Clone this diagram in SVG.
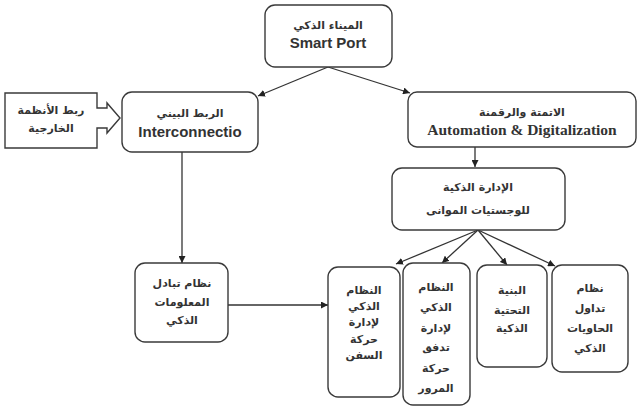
<svg xmlns="http://www.w3.org/2000/svg" width="638" height="406" viewBox="0 0 638 406">
<style>
.box{fill:#fff;stroke:#3a3a3a;stroke-width:1.4}
.ar{font-family:"DejaVu Sans","Liberation Sans",sans-serif;font-weight:bold;font-size:11px;fill:#333;text-anchor:middle}
.en{font-family:"Liberation Sans",Arial,sans-serif;font-weight:bold;font-size:15px;fill:#333;text-anchor:middle}
.tm{font-family:"Liberation Serif","Times New Roman",serif;font-weight:bold;font-size:15.5px;fill:#333;text-anchor:middle}
.cn{fill:none;stroke:#333;stroke-width:1.3}
</style>
<defs>
<marker id="ah" viewBox="0 0 10 10" refX="10" refY="5" markerWidth="7" markerHeight="7" orient="auto" markerUnits="userSpaceOnUse">
<path d="M0,0 L10,5 L0,10 z" fill="#222"/>
</marker>
</defs>
<rect width="638" height="406" fill="#fff"/>
<g id="connectors">
<line class="cn" x1="328" y1="67" x2="258" y2="96" marker-end="url(#ah)"/>
<line class="cn" x1="328" y1="67" x2="410" y2="93" marker-end="url(#ah)"/>
<line class="cn" x1="475" y1="147" x2="475" y2="167" marker-end="url(#ah)"/>
<line class="cn" x1="182" y1="152" x2="182" y2="263" marker-end="url(#ah)"/>
<line class="cn" x1="228" y1="305" x2="328" y2="305" marker-end="url(#ah)"/>
<line class="cn" x1="478" y1="230" x2="396" y2="264" marker-end="url(#ah)"/>
<line class="cn" x1="478" y1="230" x2="442" y2="263" marker-end="url(#ah)"/>
<line class="cn" x1="478" y1="230" x2="507" y2="265" marker-end="url(#ah)"/>
<line class="cn" x1="478" y1="230" x2="555" y2="266" marker-end="url(#ah)"/>
</g>
<g id="smart-port">
<rect class="box" x="265" y="5" width="127" height="62" rx="10"/>
<text class="ar" x="328" y="29">الميناء الذكي</text>
<text class="en" x="328" y="48">Smart Port</text>
</g>
<g id="external">
<path class="box" d="M5,93 H97 V108 H107 V103 L120,118 L107,133 V128 H97 V148 H5 Z"/>
<text class="ar" x="51" y="114">ربط الأنظمة</text>
<text class="ar" x="51" y="132">الخارجية</text>
</g>
<g id="interconnection">
<rect class="box" x="122" y="92" width="136" height="60" rx="10"/>
<text class="ar" x="190" y="117">الربط البيني</text>
<text class="en" x="190" y="137">Interconnectio</text>
</g>
<g id="automation">
<rect class="box" x="408" y="92" width="228" height="55" rx="9"/>
<text class="ar" x="522" y="116">الاتمتة والرقمنة</text>
<text class="tm" x="522" y="135">Automation &amp; Digitalization</text>
</g>
<g id="logistics">
<rect class="box" x="392" y="168" width="173" height="62" rx="10"/>
<text class="ar" x="478" y="191">الإدارة الذكية</text>
<text class="ar" x="478" y="214">للوجستيات الموانى</text>
</g>
<g id="info-exchange">
<rect class="box" x="135" y="263" width="93" height="79" rx="10"/>
<text class="ar" x="182" y="287">نظام تبادل</text>
<text class="ar" x="182" y="306">المعلومات</text>
<text class="ar" x="182" y="324">الذكي</text>
</g>
<g id="ship-traffic">
<rect class="box" x="328" y="267" width="72" height="130" rx="10"/>
<text class="ar" x="364" y="294">النظام</text>
<text class="ar" x="364" y="310">الذكي</text>
<text class="ar" x="364" y="326">لإدارة</text>
<text class="ar" x="364" y="343">حركة</text>
<text class="ar" x="364" y="359">السفن</text>
</g>
<g id="traffic-flow">
<rect class="box" x="403" y="263" width="67" height="142" rx="10"/>
<text class="ar" x="436" y="291">النظام</text>
<text class="ar" x="436" y="311">الذكي</text>
<text class="ar" x="436" y="332">لإدارة</text>
<text class="ar" x="436" y="351">تدفق</text>
<text class="ar" x="436" y="372">حركة</text>
<text class="ar" x="436" y="392">المرور</text>
</g>
<g id="infrastructure">
<rect class="box" x="477" y="265" width="70" height="102" rx="10"/>
<text class="ar" x="512" y="294">البنية</text>
<text class="ar" x="512" y="314">التحتية</text>
<text class="ar" x="512" y="332">الذكية</text>
</g>
<g id="containers">
<rect class="box" x="552" y="265" width="76" height="107" rx="10"/>
<text class="ar" x="590" y="292">نظام</text>
<text class="ar" x="590" y="312">تداول</text>
<text class="ar" x="590" y="332">الحاويات</text>
<text class="ar" x="590" y="352">الذكي</text>
</g>
</svg>
